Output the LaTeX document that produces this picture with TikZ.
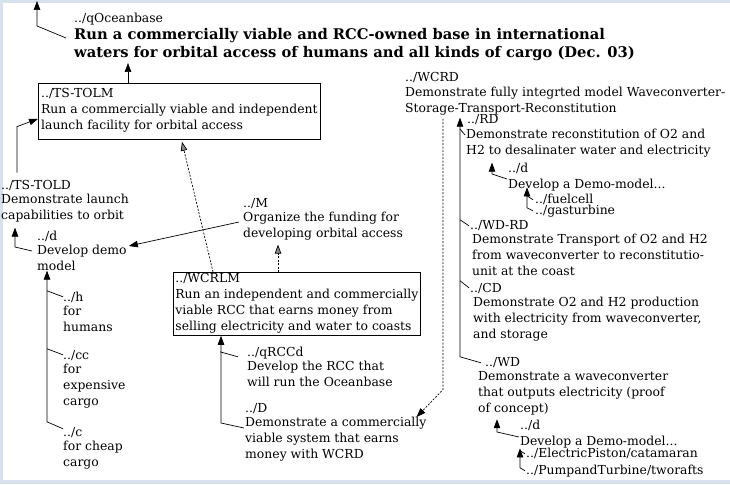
\documentclass[tikz,border=0pt]{standalone}
\usepackage{fontspec}
\setmainfont{DejaVu Serif}
\usetikzlibrary{arrows.meta,calc}
\newcommand{\treefont}{\fontsize{12.4}{16}\selectfont}
\newcommand{\titlefont}{\fontsize{14.7}{18}\selectfont\bfseries}
\definecolor{framecol}{RGB}{214,225,236}

\tikzset{
  lbl/.style={anchor=base west, inner sep=0pt, font=\treefont, execute at begin node=\strut},
  body/.style={anchor=north west, inner sep=0pt, align=left, font=\treefont,
    execute at begin node=\strut, execute at end node=\strut},
  goalbox/.style={draw, line width=0.8pt, anchor=north west, inner xsep=2pt, inner ysep=5pt,
    align=left, font=\treefont, execute at begin node=\strut, execute at end node=\strut},
  link/.style={line width=0.7pt},
  arr/.style={link, -{Triangle[length=9pt,width=6.5pt]}},
  darr/.style={arr, dash pattern=on 2pt off 1.5pt},
  hatch/.style={link, dash pattern=on 2pt off 1.5pt, -{Triangle[length=9pt,width=6.5pt,fill=black!45]}},
}

\begin{document}
\begin{tikzpicture}[x=1pt,y=-1pt]
    % Frame
    \fill[framecol] (0,0) rectangle (730,484);
    \fill[white] (3,3) rectangle (730,480);
    \useasboundingbox (0,0) rectangle (730,484);

    % Top goal
    \coordinate (top) at (37,1);
    \node[lbl] (oceanL) at (74,23) {../qOceanbase};
    \node[body, font=\titlefont] (ocean) at (oceanL.south west) {Run a commercially viable and RCC-owned base in international\\waters for orbital access of humans and all kinds of cargo (Dec. 03)};

    % Launch side
    \node[goalbox, minimum width=282pt] (tolm) at (38,83) {../TS-TOLM\\Run a commercially viable and independent\\launch facility for orbital access};
    \node[lbl] (toldL) at (1,189) {../TS-TOLD};
    \node[body] (told) at (toldL.south west) {Demonstrate launch\\capabilities to orbit};
    \node[lbl] (demoL) at (37,240) {../d};
    \node[body] (demo) at (demoL.south west) {Develop demo\\model};
    \node[lbl] (hL) at (63,301) {../h};
    \node[body] (h) at (hL.south west) {for\\humans};
    \node[lbl] (ccL) at (63,359) {../cc};
    \node[body] (cc) at (ccL.south west) {for\\expensive\\cargo};
    \node[lbl] (cL) at (63,436) {../c};
    \node[body] (c) at (cL.south west) {for cheap\\cargo};

    % Funding and RCC
    \node[lbl] (mL) at (243,207) {../M};
    \node[body] (m) at (mL.south west) {Organize the funding for\\developing orbital access};
    \node[goalbox, minimum width=245pt, inner ysep=0.5pt] (wcrlm) at (173,272) {../WCRLM\\Run an independent and commercially\\viable RCC that earns money from\\selling electricity and water to coasts};
    \node[lbl] (qL) at (247,356) {../qRCCd};
    \node[body] (q) at (qL.south west) {Develop the RCC that\\will run the Oceanbase};
    \node[lbl] (sysL) at (245,412) {../D};
    \node[body] (sys) at (sysL.south west) {Demonstrate a commercially\\viable system that earns\\money with WCRD};

    % Wave converter side
    \node[lbl] (wcrdL) at (405,82) {../WCRD};
    \node[body] (wcrd) at (wcrdL.south west) {Demonstrate fully integrted model Waveconverter-\\Storage-Transport-Reconstitution};
    \node[lbl] (rdL) at (467,124) {../RD};
    \node[body] (rd) at ($(rdL.south west)+(-1,0)$) {Demonstrate reconstitution of O2 and\\H2 to desalinater water and electricity};
    \node[lbl] (rddL) at (508,172) {../d};
    \node[body] (rdd) at (rddL.south west) {Develop a Demo-model...};
    \node[lbl] (fuelL) at (535,203) {../fuelcell};
    \node[lbl] (gasL) at (535,214) {../gasturbine};
    \node[lbl] (wdrdL) at (470,229) {../WD-RD};
    \node[body] (wdrd) at ($(wdrdL.south west)+(2,0)$) {Demonstrate Transport of O2 and H2\\from waveconverter to reconstitutio-\\unit at the coast};
    \node[lbl] (cdL) at (470,292) {../CD};
    \node[body] (cd) at ($(cdL.south west)+(3,0)$) {Demonstrate O2 and H2 production\\with electricity from waveconverter,\\and storage};
    \node[lbl] (wdL) at (485,366) {../WD};
    \node[body] (wd) at ($(wdL.south west)+(-7,0)$) {Demonstrate a waveconverter\\that outputs electricity (proof\\of concept)};
    \node[lbl] (wddL) at (520,429) {../d};
    \node[body] (wdd) at (wddL.south west) {Develop a Demo-model...};
    \node[lbl] (elecL) at (526,457) {../ElectricPiston/catamaran};
    \node[lbl] (pumpL) at (526,474) {../PumpandTurbine/tworafts};

    % Links on the left
    \draw[arr] ($(ocean.north west)+(-8,10)$) -- ($(top)+(0,25)$) -- (top);
    \draw[arr] ($(tolm.north west)+(90,0)$) coordinate (p) -- (p |- ocean.south);
    \draw[arr] ($(toldL.north west)+(16,-5)$) -- ++(0,-46) -- ($(tolm.south west)+(0,-21)$);
    \draw[arr] ($(demo.north west)+(-5,6)$) -- ++(-17,-4) coordinate (b) -- ($(b |- told.south)+(0,3)$);
    \draw[arr] ($(m.north west)+(-4,10)$) -- ($(demo.north east)+(2,1)$);
    \draw[arr] ($(cL.west)+(0,-4)$) -- ++(-16,-7) coordinate (b) -- ($(b |- demo.south)+(0,-5)$);
    \foreach \n in {hL,ccL}
        \draw[link] ($(\n.west)+(0,-1)$) -- ++(-16,-6);

    % Links round the RCC
    \draw[hatch] ($(wcrlm.north west)+(105,0)$) coordinate (p) -- ($(p |- m.south)+(0,2)$);
    \draw[hatch] ($(wcrlm.north west)+(40,0)$) -- ($(tolm.south west)+(144,2)$);
    \draw[arr] ($(sys.north west)+(-1,11)$) -- ++(-23,-5) coordinate (b) -- (b |- wcrlm.south);
    \draw[link] ($(qL.west)+(-9,4)$) -- ++(-18,-5);
    \draw[darr] ($(wcrd.south west)+(38,1)$) -- ++(0,271) -- ($(sys.north east)+(-10,0)$);

    % Links on the right
    \draw[arr] ($(wdL.west)+(-4,0)$) -- ++(-21,-6) coordinate (b) -- (b |- wcrd.south);
    \draw[link] ($(cdL.west)+(-1,-1)$) -- ++(-9,-7);
    \draw[link] ($(wdrdL.west)+(-1,0)$) -- ++(-9,-6);
    \draw[link] ($(rd.north west)+(-1,6)$) -- ++(-5,-6);
    \draw[arr] ($(rdd.north west)+(-1,2)$) -- ++(-15,-5) coordinate (b) -- ($(b |- rd.south)+(0,3)$);
    \draw[arr] ($(gasL.west)+(-2,0)$) -- ++(-6,-3) coordinate (b) -- ($(b |- rdd.south)+(0,-6)$);
    \draw[link] ($(fuelL.west)+(-2,0)$) -- ++(-6,-4);
    \draw[arr] ($(wdd.north west)+(-1,3)$) -- ++(-22,-5) coordinate (b) -- ($(b |- wd.south)+(0,2)$);
    \draw[arr] ($(pumpL.west)+(-1,0)$) -- ++(-5,-3) coordinate (b) -- ($(b |- wdd.south)+(0,-2)$);
    \draw[link] ($(elecL.west)+(-1,0)$) -- ++(-5,-3);
\end{tikzpicture}
\end{document}
